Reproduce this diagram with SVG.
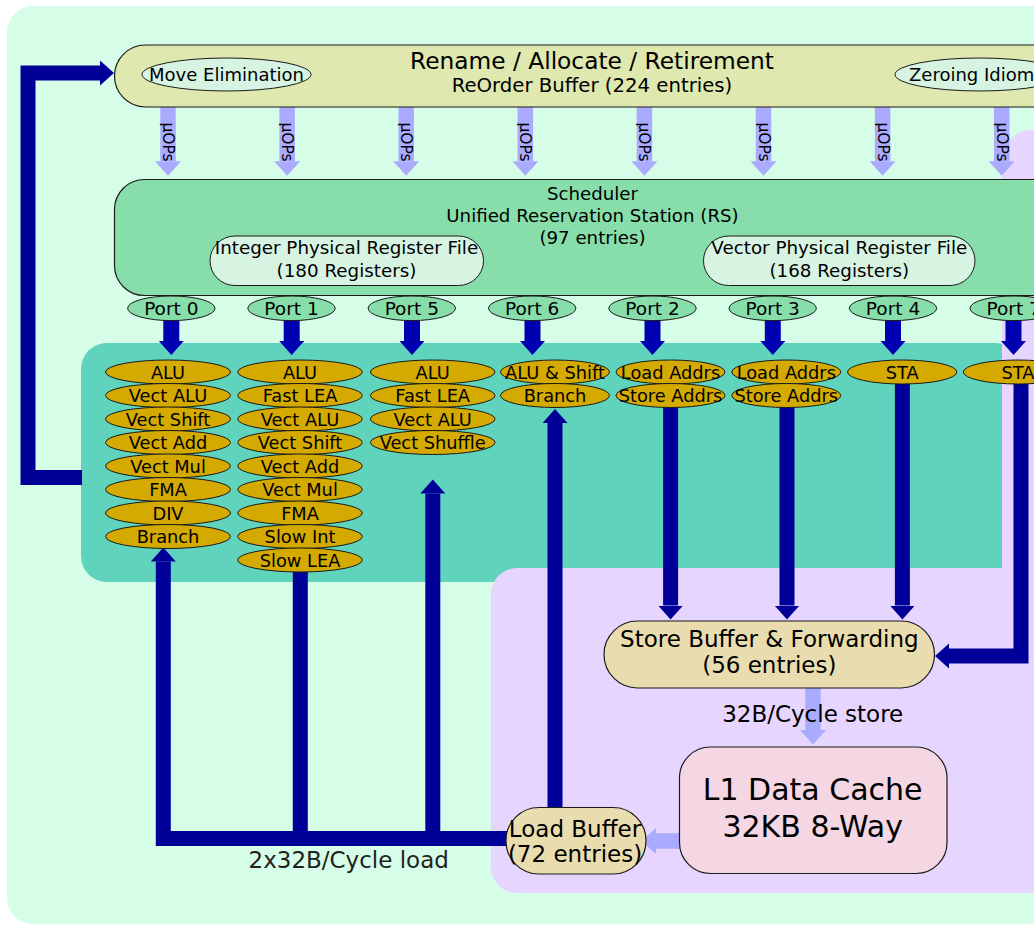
<svg xmlns="http://www.w3.org/2000/svg" width="1034" height="925" viewBox="0 0 1034 925">
  <style>
    text { font-family: "DejaVu Sans", "Liberation Sans", sans-serif; fill: #000; }
    .mid { text-anchor: middle; }
    .box { stroke: #1a1a1a; stroke-width: 1.2; }
    .unit { fill: #d4aa00; stroke: #1a1a1a; stroke-width: 1; }
    .unit-t { font-size: 17.8px; text-anchor: middle; }
    .port { fill: #87deab; stroke: #1a1a1a; stroke-width: 1; }
    .port-t { font-size: 18.5px; text-anchor: middle; }
    .pill { fill: #d7f4e3; stroke: #1a1a1a; stroke-width: 1; }
    .bus { fill: none; stroke: #000099; stroke-width: 15; stroke-linejoin: miter; }
    .issue { fill: none; stroke: #0000b0; stroke-width: 16; }
    .soft { fill: none; stroke: #aaaaff; stroke-width: 15.5; }
    .uop { font-size: 15.5px; text-anchor: middle; }
  </style>
  <defs>
    <marker id="hBus" markerUnits="userSpaceOnUse" markerWidth="15" markerHeight="26" refX="0" refY="12.5" orient="auto">
      <path d="M0,0 L14,12.5 L0,25 z" fill="#000099"/>
    </marker>
    <marker id="hIssue" markerUnits="userSpaceOnUse" markerWidth="15" markerHeight="26" refX="0" refY="12.5" orient="auto">
      <path d="M0,0 L14,12.5 L0,25 z" fill="#0000b0"/>
    </marker>
    <marker id="hSoft" markerUnits="userSpaceOnUse" markerWidth="16" markerHeight="27" refX="0" refY="13" orient="auto">
      <path d="M0,0 L14.5,13 L0,26 z" fill="#aaaaff"/>
    </marker>
  </defs>

  <!-- core background regions -->
  <g id="regions">
    <rect x="7" y="6" width="1100" height="918" rx="26" fill="#d6fde7"/>
    <rect x="81" y="343" width="940" height="239" rx="26" fill="#5fd3bc"/>
    <rect x="1002" y="130" width="120" height="763" rx="30" fill="#e5d5ff"/>
    <rect x="491" y="568" width="620" height="325" rx="26" fill="#e5d5ff"/>
  </g>

  <!-- connectors -->
  <g id="connectors">
    <!-- uOP dispatch from ROB to scheduler -->
    <path class="soft" d="M168 107 V161.3" marker-end="url(#hSoft)"/>
    <path class="soft" d="M287.1 107 V161.3" marker-end="url(#hSoft)"/>
    <path class="soft" d="M406.2 107 V161.3" marker-end="url(#hSoft)"/>
    <path class="soft" d="M525.3 107 V161.3" marker-end="url(#hSoft)"/>
    <path class="soft" d="M644.4 107 V161.3" marker-end="url(#hSoft)"/>
    <path class="soft" d="M763.5 107 V161.3" marker-end="url(#hSoft)"/>
    <path class="soft" d="M882.6 107 V161.3" marker-end="url(#hSoft)"/>
    <path class="soft" d="M1001.7 107 V161.3" marker-end="url(#hSoft)"/>
    <text class="uop" transform="translate(163,142) rotate(90)">μOPs</text>
    <text class="uop" transform="translate(282.1,142) rotate(90)">μOPs</text>
    <text class="uop" transform="translate(401.2,142) rotate(90)">μOPs</text>
    <text class="uop" transform="translate(520.3,142) rotate(90)">μOPs</text>
    <text class="uop" transform="translate(639.4,142) rotate(90)">μOPs</text>
    <text class="uop" transform="translate(758.5,142) rotate(90)">μOPs</text>
    <text class="uop" transform="translate(877.6,142) rotate(90)">μOPs</text>
    <text class="uop" transform="translate(996.7,142) rotate(90)">μOPs</text>

    <!-- issue ports to execution units -->
    <path class="issue" d="M171.3 320 V341" marker-end="url(#hIssue)"/>
    <path class="issue" d="M291.7 320 V341" marker-end="url(#hIssue)"/>
    <path class="issue" d="M412 320 V341" marker-end="url(#hIssue)"/>
    <path class="issue" d="M532.5 320 V341" marker-end="url(#hIssue)"/>
    <path class="issue" d="M652.5 320 V341" marker-end="url(#hIssue)"/>
    <path class="issue" d="M772.8 320 V341" marker-end="url(#hIssue)"/>
    <path class="issue" d="M893 320 V341" marker-end="url(#hIssue)"/>
    <path class="issue" d="M1013.5 320 V341" marker-end="url(#hIssue)"/>

    <!-- retirement feedback -->
    <path class="bus" d="M82 477.5 H28 V73 H100" marker-end="url(#hBus)"/>

    <!-- load data bus -->
    <path class="bus" d="M507 838.5 H163.3 V561.5" marker-end="url(#hBus)"/>
    <path class="bus" d="M300.3 572 V838.5"/>
    <path class="bus" d="M432.8 838.5 V493.5" marker-end="url(#hBus)"/>
    <path class="bus" d="M555 808 V423" marker-end="url(#hBus)"/>

    <!-- store addresses / data -->
    <path class="bus" d="M670.6 407 V605.5" marker-end="url(#hBus)"/>
    <path class="bus" d="M787 407 V605.5" marker-end="url(#hBus)"/>
    <path class="bus" d="M902.4 383 V605.5" marker-end="url(#hBus)"/>
    <path class="bus" d="M1021 383 V656 H949" marker-end="url(#hBus)"/>

    <!-- memory paths -->
    <path class="soft" d="M813 688 V730" marker-end="url(#hSoft)"/>
    <path class="soft" d="M680 841 H656" marker-end="url(#hSoft)"/>
    <text x="812.7" y="722" class="mid" style="font-size:23px">32B/Cycle store</text>
    <text x="348.7" y="868" class="mid" style="font-size:23px;fill:#221f1f">2x32B/Cycle load</text>
  </g>

  <!-- front: rename / allocate / retirement -->
  <g id="rob">
    <rect class="box" x="114.5" y="45" width="1000" height="62" rx="31" fill="#dee8af"/>
    <text x="592" y="68.5" class="mid" style="font-size:23.3px">Rename / Allocate / Retirement</text>
    <text x="592" y="91.5" class="mid" style="font-size:19.7px">ReOrder Buffer (224 entries)</text>
  </g>
  <g id="move-elimination">
    <ellipse class="pill" cx="226.5" cy="74.5" rx="84.5" ry="16.5"/>
    <text x="226.5" y="80.5" class="mid" style="font-size:18px">Move Elimination</text>
  </g>
  <g id="zeroing-idiom">
    <ellipse class="pill" cx="979.5" cy="74.5" rx="84.5" ry="16.5"/>
    <text x="909" y="80.5" style="font-size:18px">Zeroing Idiom</text>
  </g>

  <!-- scheduler -->
  <g id="scheduler">
    <rect class="box" x="114.5" y="179.5" width="1000" height="116" rx="30" fill="#87deab"/>
    <text x="592.5" y="199.5" class="mid" style="font-size:18.2px">Scheduler</text>
    <text x="592.5" y="222" class="mid" style="font-size:18.2px">Unified Reservation Station (RS)</text>
    <text x="592.5" y="244" class="mid" style="font-size:18.2px">(97 entries)</text>
  </g>
  <g id="int-prf">
    <rect class="pill" x="210" y="236" width="273.5" height="49.5" rx="25"/>
    <text x="346.5" y="254" class="mid" style="font-size:18.3px">Integer Physical Register File</text>
    <text x="346.5" y="277" class="mid" style="font-size:18.3px">(180 Registers)</text>
  </g>
  <g id="vec-prf">
    <rect class="pill" x="703.5" y="236" width="271.5" height="49.5" rx="25"/>
    <text x="839.3" y="254" class="mid" style="font-size:18.3px">Vector Physical Register File</text>
    <text x="839.3" y="277" class="mid" style="font-size:18.3px">(168 Registers)</text>
  </g>

  <!-- ports -->
  <g id="port0"><ellipse class="port" cx="171.3" cy="308.3" rx="43.7" ry="12.3"/><text class="port-t" x="171.3" y="315">Port 0</text></g>
  <g id="port1"><ellipse class="port" cx="291.5" cy="308.3" rx="43.7" ry="12.3"/><text class="port-t" x="291.5" y="315">Port 1</text></g>
  <g id="port5"><ellipse class="port" cx="411.8" cy="308.3" rx="43.7" ry="12.3"/><text class="port-t" x="411.8" y="315">Port 5</text></g>
  <g id="port6"><ellipse class="port" cx="532.2" cy="308.3" rx="43.7" ry="12.3"/><text class="port-t" x="532.2" y="315">Port 6</text></g>
  <g id="port2"><ellipse class="port" cx="652.5" cy="308.3" rx="43.7" ry="12.3"/><text class="port-t" x="652.5" y="315">Port 2</text></g>
  <g id="port3"><ellipse class="port" cx="772.7" cy="308.3" rx="43.7" ry="12.3"/><text class="port-t" x="772.7" y="315">Port 3</text></g>
  <g id="port4"><ellipse class="port" cx="893" cy="308.3" rx="43.7" ry="12.3"/><text class="port-t" x="893" y="315">Port 4</text></g>
  <g id="port7"><ellipse class="port" cx="1013.7" cy="308.3" rx="43.7" ry="12.3"/><text class="port-t" x="1013.7" y="315">Port 7</text></g>

  <!-- execution units, port 0 -->
  <g id="units-port0">
    <ellipse class="unit" cx="168" cy="372" rx="62.5" ry="12"/><text class="unit-t" x="168" y="378.5">ALU</text>
    <ellipse class="unit" cx="168" cy="395.5" rx="62.5" ry="12"/><text class="unit-t" x="168" y="402">Vect ALU</text>
    <ellipse class="unit" cx="168" cy="419" rx="62.5" ry="12"/><text class="unit-t" x="168" y="425.5">Vect Shift</text>
    <ellipse class="unit" cx="168" cy="442.5" rx="62.5" ry="12"/><text class="unit-t" x="168" y="449">Vect Add</text>
    <ellipse class="unit" cx="168" cy="466" rx="62.5" ry="12"/><text class="unit-t" x="168" y="472.5">Vect Mul</text>
    <ellipse class="unit" cx="168" cy="489.5" rx="62.5" ry="12"/><text class="unit-t" x="168" y="496">FMA</text>
    <ellipse class="unit" cx="168" cy="513" rx="62.5" ry="12"/><text class="unit-t" x="168" y="519.5">DIV</text>
    <ellipse class="unit" cx="168" cy="536.5" rx="62.5" ry="12"/><text class="unit-t" x="168" y="543">Branch</text>
  </g>
  <!-- execution units, port 1 -->
  <g id="units-port1">
    <ellipse class="unit" cx="300" cy="372" rx="62.3" ry="12"/><text class="unit-t" x="300" y="378.5">ALU</text>
    <ellipse class="unit" cx="300" cy="395.5" rx="62.3" ry="12"/><text class="unit-t" x="300" y="402">Fast LEA</text>
    <ellipse class="unit" cx="300" cy="419" rx="62.3" ry="12"/><text class="unit-t" x="300" y="425.5">Vect ALU</text>
    <ellipse class="unit" cx="300" cy="442.5" rx="62.3" ry="12"/><text class="unit-t" x="300" y="449">Vect Shift</text>
    <ellipse class="unit" cx="300" cy="466" rx="62.3" ry="12"/><text class="unit-t" x="300" y="472.5">Vect Add</text>
    <ellipse class="unit" cx="300" cy="489.5" rx="62.3" ry="12"/><text class="unit-t" x="300" y="496">Vect Mul</text>
    <ellipse class="unit" cx="300" cy="513" rx="62.3" ry="12"/><text class="unit-t" x="300" y="519.5">FMA</text>
    <ellipse class="unit" cx="300" cy="536.5" rx="62.3" ry="12"/><text class="unit-t" x="300" y="543">Slow Int</text>
    <ellipse class="unit" cx="300" cy="560" rx="62.3" ry="12"/><text class="unit-t" x="300" y="566.5">Slow LEA</text>
  </g>
  <!-- execution units, port 5 -->
  <g id="units-port5">
    <ellipse class="unit" cx="432.7" cy="372" rx="62.3" ry="12"/><text class="unit-t" x="432.7" y="378.5">ALU</text>
    <ellipse class="unit" cx="432.7" cy="395.5" rx="62.3" ry="12"/><text class="unit-t" x="432.7" y="402">Fast LEA</text>
    <ellipse class="unit" cx="432.7" cy="419" rx="62.3" ry="12"/><text class="unit-t" x="432.7" y="425.5">Vect ALU</text>
    <ellipse class="unit" cx="432.7" cy="442.5" rx="62.3" ry="12"/><text class="unit-t" x="432.7" y="449">Vect Shuffle</text>
  </g>
  <!-- execution units, port 6 -->
  <g id="units-port6">
    <ellipse class="unit" cx="555" cy="372" rx="54.5" ry="12"/><text class="unit-t" x="555" y="378.5">ALU &amp; Shift</text>
    <ellipse class="unit" cx="555" cy="395.5" rx="54.5" ry="12"/><text class="unit-t" x="555" y="402">Branch</text>
  </g>
  <!-- execution units, port 2 -->
  <g id="units-port2">
    <ellipse class="unit" cx="670.5" cy="372" rx="54.5" ry="12"/><text class="unit-t" x="670.5" y="378.5">Load Addrs</text>
    <ellipse class="unit" cx="670.5" cy="395.5" rx="54.5" ry="12"/><text class="unit-t" x="670.5" y="402">Store Addrs</text>
  </g>
  <!-- execution units, port 3 -->
  <g id="units-port3">
    <ellipse class="unit" cx="786.3" cy="372" rx="54.5" ry="12"/><text class="unit-t" x="786.3" y="378.5">Load Addrs</text>
    <ellipse class="unit" cx="786.3" cy="395.5" rx="54.5" ry="12"/><text class="unit-t" x="786.3" y="402">Store Addrs</text>
  </g>
  <!-- execution units, port 4 -->
  <g id="units-port4">
    <ellipse class="unit" cx="902.2" cy="372" rx="54.7" ry="12"/><text class="unit-t" x="902.2" y="378.5">STA</text>
  </g>
  <!-- execution units, port 7 -->
  <g id="units-port7">
    <ellipse class="unit" cx="1018" cy="372" rx="54.7" ry="12"/><text class="unit-t" x="1018" y="378.5">STA</text>
  </g>

  <!-- memory subsystem -->
  <g id="store-buffer">
    <rect class="box" x="604" y="621" width="330.5" height="67" rx="33.5" fill="#e9ddaf"/>
    <text x="769.3" y="647" class="mid" style="font-size:23px">Store Buffer &amp; Forwarding</text>
    <text x="769.3" y="673.3" class="mid" style="font-size:23px">(56 entries)</text>
  </g>
  <g id="l1-data-cache">
    <rect class="box" x="679.5" y="747" width="267.5" height="126.5" rx="31" fill="#f4d7e3"/>
    <text x="812.7" y="800" class="mid" style="font-size:30px">L1 Data Cache</text>
    <text x="812.7" y="836.5" class="mid" style="font-size:30px">32KB 8-Way</text>
  </g>
  <g id="load-buffer">
    <rect class="box" x="506" y="807.5" width="140" height="66.5" rx="33" fill="#e9ddaf"/>
    <text x="575" y="836.5" class="mid" style="font-size:23px">Load Buffer</text>
    <text x="575" y="861.5" class="mid" style="font-size:23px">(72 entries)</text>
  </g>
</svg>
